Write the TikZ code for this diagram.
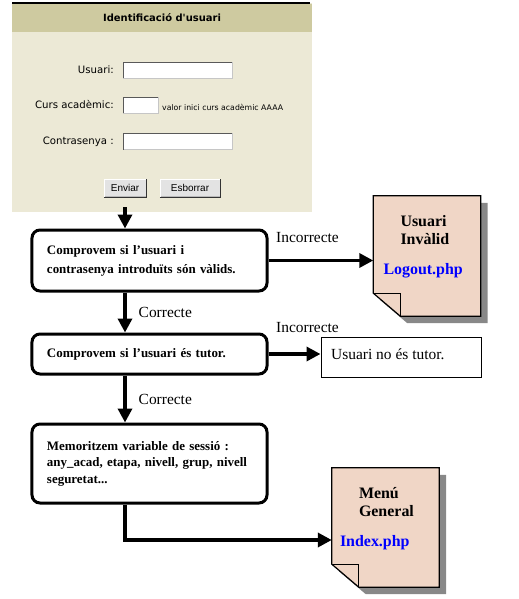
\documentclass[tikz,border=0pt]{standalone}
\usepackage{fontspec}
\setmainfont{Liberation Serif}
\newfontfamily\formfont{DejaVu Sans}
\newfontfamily\botofont{Liberation Sans}
\usetikzlibrary{arrows.meta,positioning}

\definecolor{fonsform}{RGB}{236,233,214}
\definecolor{capform}{RGB}{206,202,160}
\definecolor{paper}{RGB}{240,214,198}
\definecolor{ombra}{RGB}{136,136,136}

% full de document amb ombra i cantonada doblegada
\newcommand{\fulla}[1]{%
  \fill[ombra] ([shift={(7,7)}]#1.north west) -- ([shift={(7,7)}]#1.north east)
    -- ([shift={(7,7)}]#1.south east) -- ([shift={(34,7)}]#1.south west)
    -- ([shift={(7,-16)}]#1.south west) -- cycle;
  \filldraw[fill=paper, line width=1.2bp] (#1.north west) -- (#1.north east)
    -- (#1.south east) -- ([shift={(27,0)}]#1.south west)
    -- ([shift={(0,-23)}]#1.south west) -- cycle;
  \draw[line width=1bp] ([shift={(0,-23)}]#1.south west) -- ([shift={(27,-23)}]#1.south west)
    -- ([shift={(27,0)}]#1.south west);
}

\begin{document}
\begin{tikzpicture}[x=1bp, y=-1bp,
    pas/.style={draw, line width=3bp, rounded corners=8bp, fill=white, minimum width=235bp,
      text width=205bp, align=left, inner sep=0pt, font=\bfseries\fontsize{13}{19}\selectfont},
    fletxa/.style={line width=3.4bp, -{Triangle[length=14bp,width=14bp]}},
    etiq/.style={font=\fontsize{15.5}{17}\selectfont, inner sep=0pt},
    fulla/.style={minimum width=107bp, minimum height=120bp, inner sep=0pt},
    titol/.style={font=\bfseries\fontsize{16}{18.5}\selectfont, align=left, inner sep=0pt, anchor=north west},
    enllac/.style={font=\bfseries\fontsize{16}{18}\selectfont, text=blue, inner sep=0pt, anchor=base west},
    rotul/.style={font=\formfont\fontsize{10.2}{12}\selectfont, inner sep=0pt, anchor=east},
    camp/.style={fill=white, draw=gray!45, minimum height=16bp, inner sep=0pt},
    boto/.style={fill=gray!22, draw=gray!55, minimum height=17bp, inner sep=0pt,
      font=\botofont\fontsize{10}{12}\selectfont}]
\useasboundingbox (0,0) rectangle (519,599);

% formulari
\fill[fonsform] (12,3) rectangle (312,212);
\fill[capform] (12,4) rectangle (312,32);
\draw[line width=1.2bp] (12,3) -- (310,3);
\node[font=\formfont\bfseries\fontsize{10}{12}\selectfont] (capcal) at (162,18) {Identificació d'usuari};
\foreach \nom/\y/\txt in {usuari/70/Usuari:, curs/105/Curs acadèmic:, clau/142/Contrasenya :}
{
    \node[rotul] (r\nom) at (114,\y) {\txt};
}
\node[camp, minimum width=109bp] (fusuari) at (177.5,70) {};
\node[camp, minimum width=35bp] (fcurs) at (140.5,105) {};
\node[camp, minimum width=109bp] (fclau) at (177.5,141.5) {};
\foreach \c in {fusuari,fcurs,fclau}
{
    \draw[gray!70!black] (\c.south west) |- (\c.north east);
}
\node[font=\formfont\fontsize{7.8}{9}\selectfont, inner sep=0pt, anchor=west] (ajuda) at (162,107) {valor inici curs acadèmic AAAA};
\node[boto, minimum width=42bp] (enviar) at (125,188) {Enviar};
\node[boto, minimum width=60bp] (esborrar) at (190,188) {Esborrar};
\foreach \b in {enviar,esborrar}
{
    \draw[white] (\b.south west) |- (\b.north east);
    \draw[gray!40!black] (\b.south west) -| (\b.north east);
}

% passos
\coordinate (eix) at (125,207);
\node[pas, minimum height=61bp] (pas1) at (149.5,260.5)
  {Comprovem si l'usuari i\\contrasenya introduïts són vàlids.};
\node[pas, minimum height=40bp] (pas2) at (149.5,354) {Comprovem si l'usuari és tutor.};
\node[pas, minimum height=79bp, font=\bfseries\fontsize{13}{16.5}\selectfont] (pas3) at (149.5,463.5)
  {Memoritzem variable de sessió :\\any\_acad, etapa, nivell, grup, nivell\\seguretat...};

% documents
\node[fulla] (invalid) at (427,256) {};
\fulla{invalid}
\node[titol] (tinvalid) at ([shift={(27,19)}]invalid.north west) {Usuari\\Invàlid};
\node[enllac] (logout) at ([shift={(10,79)}]invalid.north west) {Logout.php};

\node[fulla, minimum height=119bp] (general) at (385.5,527.5) {};
\fulla{general}
\node[titol] (tgeneral) at ([shift={(27,19)}]general.north west) {Menú\\General};
\node[enllac] (index) at ([shift={(8,79)}]general.north west) {Index.php};

\node[draw, line width=1bp, minimum width=160bp, minimum height=40bp, inner sep=0pt] (notutor) at (401,357) {};
\node[etiq, anchor=base west] (tnotutor) at (331,359) {Usuari no és tutor.};

% connexions
\draw[fletxa] (eix) -- (eix |- pas1.north);
\draw[fletxa] (eix |- pas1.south) -- (eix |- pas2.north)
    node[etiq, midway, right=12bp] (ok1) {Correcte};
\draw[fletxa] (eix |- pas2.south) -- (eix |- pas3.north)
    node[etiq, midway, right=12bp] (ok2) {Correcte};
\draw[fletxa] (pas1.east) -- (pas1.east -| invalid.west);
\draw[fletxa] (pas2.east) -- (pas2.east -| notutor.west);
\draw[fletxa] (eix |- pas3.south) |- ([shift={(0,12.5)}]general.west);
\node[etiq, anchor=base west] (ko1) at (276,242) {Incorrecte};
\node[etiq, anchor=base west] (ko2) at (276,332) {Incorrecte};

\end{tikzpicture}
\end{document}
